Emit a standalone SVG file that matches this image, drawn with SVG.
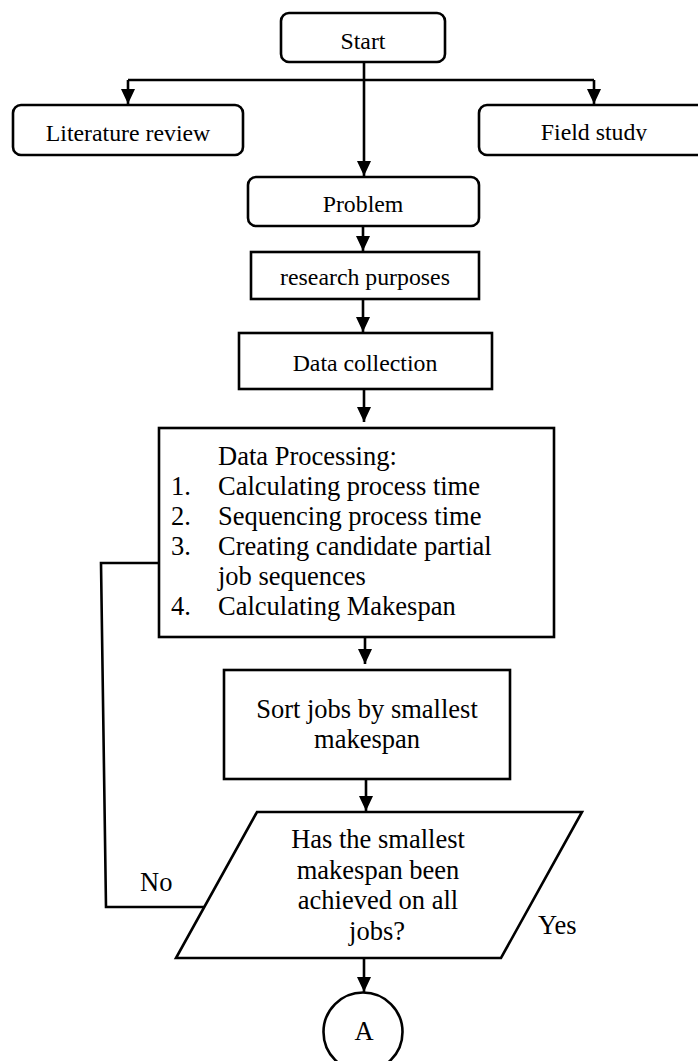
<svg xmlns="http://www.w3.org/2000/svg" width="698" height="1061" viewBox="0 0 698 1061">
  <style>
    .box { fill: #ffffff; stroke: #000000; stroke-width: 2.6; }
    .line { fill: none; stroke: #000000; stroke-width: 2.6; }
    .t { font-family: "Liberation Serif", "Times New Roman", serif; fill: #000000; }
    .s { font-size: 23.8px; }
    .l { font-size: 26.5px; }
    .c { text-anchor: middle; }
  </style>
  <defs>
    <marker id="arrow" viewBox="0 0 15 14" refX="15" refY="7" markerWidth="15" markerHeight="14" markerUnits="userSpaceOnUse" orient="auto">
      <path d="M0,0 L15,7 L0,14 Z" fill="#000000"/>
    </marker>
    <clipPath id="fieldClip">
      <rect x="470" y="100" width="240" height="41"/>
    </clipPath>
  </defs>

  <rect width="698" height="1061" fill="#ffffff"/>

  <!-- connectors -->
  <g id="connectors">
    <path class="line" d="M364,62 L364,176" marker-end="url(#arrow)"/>
    <path class="line" d="M128,80 L594,80"/>
    <path class="line" d="M128,80 L128,104" marker-end="url(#arrow)"/>
    <path class="line" d="M594,80 L594,104" marker-end="url(#arrow)"/>
    <path class="line" d="M363,226 L363,251" marker-end="url(#arrow)"/>
    <path class="line" d="M363,299 L363,332" marker-end="url(#arrow)"/>
    <path class="line" d="M364,389 L364,422" marker-end="url(#arrow)"/>
    <path class="line" d="M365,637 L365,664" marker-end="url(#arrow)"/>
    <path class="line" d="M366,779 L366,811" marker-end="url(#arrow)"/>
    <path class="line" d="M364,958 L364,992" marker-end="url(#arrow)"/>
    <!-- "No" loop back to data processing -->
    <path class="line" d="M204,907 L106,907 L101,563 L159,563"/>
    <text class="t l" x="140" y="891">No</text>
    <text class="t l" x="538" y="934">Yes</text>
  </g>

  <g id="start">
    <rect class="box" x="281" y="13" width="164" height="49" rx="8"/>
    <text class="t s c" x="363" y="49">Start</text>
  </g>

  <g id="literature-review">
    <rect class="box" x="13" y="105" width="230" height="50" rx="8"/>
    <text class="t s c" x="128" y="141">Literature review</text>
  </g>

  <g id="field-study">
    <rect class="box" x="479" y="105" width="232" height="50" rx="8"/>
    <text class="t s c" x="594" y="140" clip-path="url(#fieldClip)">Field study</text>
  </g>

  <g id="problem">
    <rect class="box" x="248" y="177" width="231" height="49" rx="8"/>
    <text class="t s c" x="363" y="212">Problem</text>
  </g>

  <g id="research-purposes">
    <rect class="box" x="251" y="252" width="228" height="47"/>
    <text class="t s c" x="365" y="285">research purposes</text>
  </g>

  <g id="data-collection">
    <rect class="box" x="239" y="333" width="253" height="56"/>
    <text class="t s c" x="365" y="371">Data collection</text>
  </g>

  <g id="data-processing">
    <rect class="box" x="159" y="428" width="395" height="209"/>
    <text class="t l" x="218" y="465">Data Processing:</text>
    <text class="t l" x="171" y="495">1.</text>
    <text class="t l" x="218" y="495">Calculating process time</text>
    <text class="t l" x="171" y="525">2.</text>
    <text class="t l" x="218" y="525">Sequencing process time</text>
    <text class="t l" x="171" y="555">3.</text>
    <text class="t l" x="218" y="555">Creating candidate partial</text>
    <text class="t l" x="218" y="585">job sequences</text>
    <text class="t l" x="171" y="615">4.</text>
    <text class="t l" x="218" y="615">Calculating Makespan</text>
  </g>

  <g id="sort-jobs">
    <rect class="box" x="224" y="670" width="286" height="109"/>
    <text class="t l c" x="367" y="718">Sort jobs by smallest</text>
    <text class="t l c" x="367" y="748">makespan</text>
  </g>

  <g id="decision">
    <path class="box" d="M257,812 L582,812 L501,958 L176,958 Z"/>
    <text class="t l c" x="378" y="848">Has the smallest</text>
    <text class="t l c" x="378" y="879">makespan been</text>
    <text class="t l c" x="378" y="909">achieved on all</text>
    <text class="t l c" x="377" y="940">jobs?</text>
  </g>

  <g id="connector-a">
    <circle class="box" cx="363" cy="1032" r="39.5"/>
    <text class="t l c" x="364" y="1040">A</text>
  </g>
</svg>
